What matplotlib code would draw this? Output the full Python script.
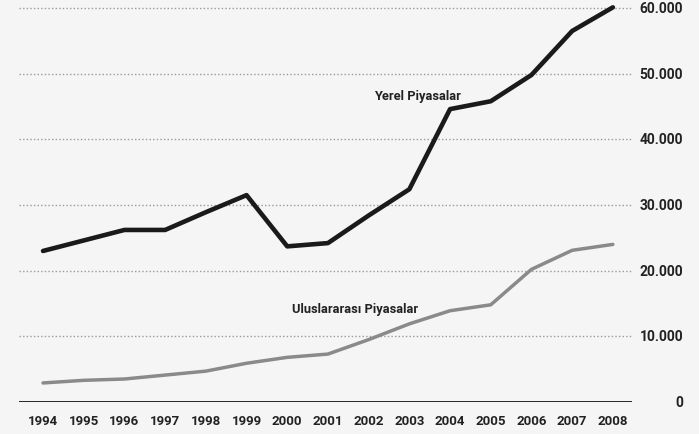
import matplotlib
matplotlib.use("Agg")
import matplotlib.pyplot as plt

years = list(range(1994, 2009))
yerel = [23000, 24600, 26200, 26200, 28900, 31500, 23700, 24200, 28400, 32400,
         44600, 45800, 49800, 56500, 60100]
uluslararasi = [2900, 3300, 3500, 4100, 4700, 5900, 6800, 7300, 9500, 11900,
                13900, 14800, 20200, 23100, 24000]
yticks = [0, 10000, 20000, 30000, 40000, 50000, 60000]
ylabels = ["0", "10.000", "20.000", "30.000", "40.000", "50.000", "60.000"]

plt.rcParams['font.family'] = ['Roboto', 'DejaVu Sans']
bg = "#f5f5f5"

fig = plt.figure(figsize=(6.99, 4.35), dpi=100, facecolor=bg)
ax = fig.add_axes([19/699, 32/435, (632-19)/699, 403/435], facecolor=bg)

ax.plot(years, uluslararasi, color="#8a8a8a", lw=2.5, solid_capstyle="round", zorder=3)
ax.plot(years, yerel, color="#1a1a1a", lw=3.3, solid_capstyle="round", zorder=4)

ax.set_xlim(1993.41, 2008.47)
ax.set_ylim(0, 61370)

for v in yticks[1:]:
    ax.axhline(v, color="#9a9a9a", lw=1.0, ls=(0, (1, 1.6)), zorder=1)
ax.axhline(0, color="#111111", lw=2.0, zorder=5)

for s in ax.spines.values():
    s.set_visible(False)

ax.set_xticks(years)
ax.set_xticklabels([str(y) for y in years], fontsize=9.5, fontweight="bold", color="#222222")
ax.tick_params(axis="x", length=0, pad=9)
ax.set_yticks([])

for v, lab in zip(yticks, ylabels):
    fig.text(683/699, 1 - (403 - v / 10000 * 65.67) / 435, lab, ha="right", va="center",
             fontsize=10, fontweight="bold", color="#222222")

ax.text(2003.19, 46700, "Yerel Piyasalar", fontsize=9.3, fontweight="bold",
        color="#222222", ha="center", va="center")
ax.text(2000.12, 14200, "Uluslararası Piyasalar", fontsize=9.3, fontweight="bold",
        color="#222222", ha="left", va="center")

fig.savefig("out.png", dpi=100, facecolor=bg)
